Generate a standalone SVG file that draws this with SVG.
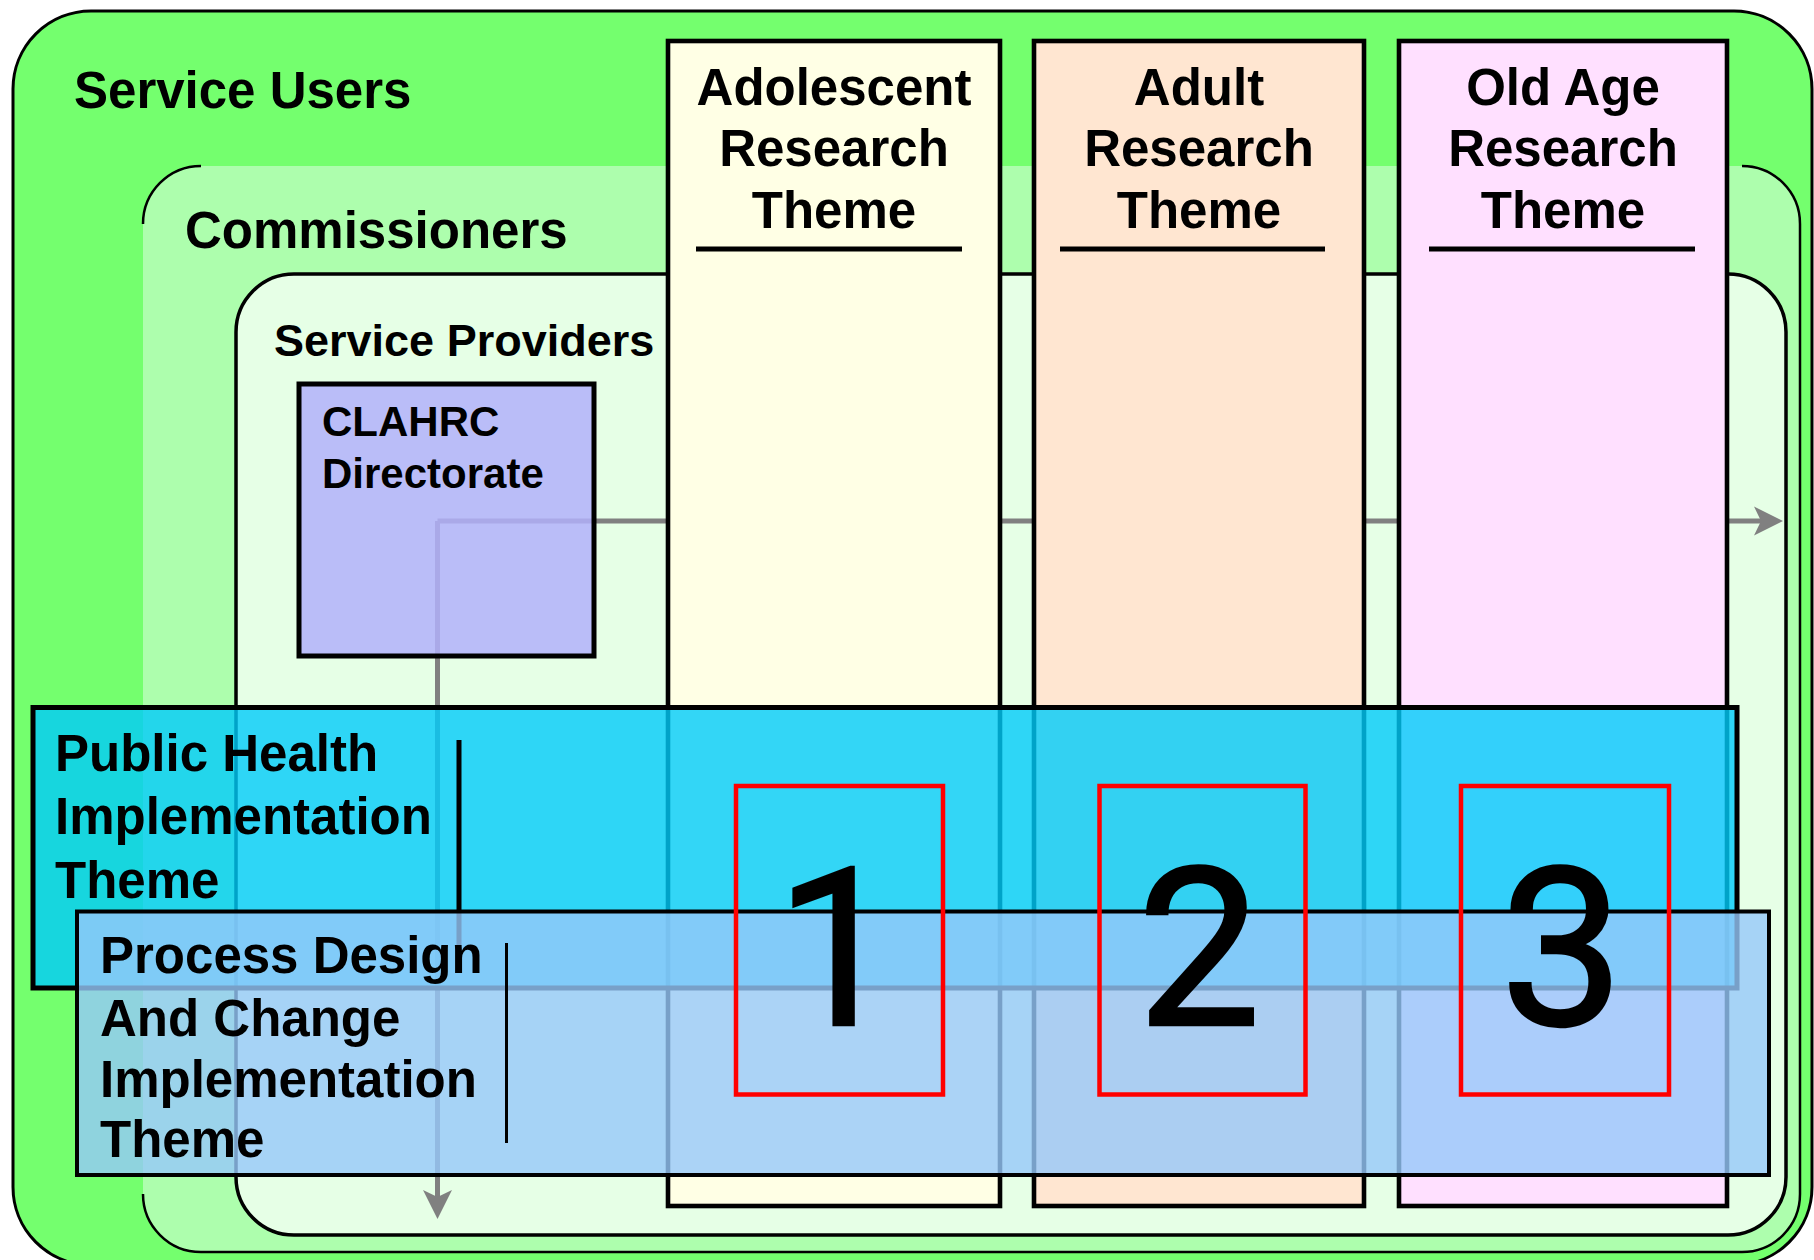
<svg xmlns="http://www.w3.org/2000/svg" width="1814" height="1260" viewBox="0 0 1814 1260">
<style>
.lbl{font-family:"Liberation Sans",Arial,sans-serif;font-weight:bold;font-size:51px;fill:#000}
.ctr{text-anchor:middle}
.col{stroke:#000;stroke-width:4.6}
.band{stroke:#000;stroke-width:5}
.bar{stroke:#000}
.red{fill:none;stroke:#f00;stroke-width:4.5}
.digit{font-family:Roboto,"Liberation Sans",Arial,sans-serif;font-size:220px;text-anchor:middle;fill:#000;stroke:#000;stroke-width:2.5}
.conn{fill:none;stroke:#808080;stroke-width:5}
.uline{stroke:#000;stroke-width:5}
</style>
<defs>
<marker id="ah" markerUnits="userSpaceOnUse" viewBox="-22 -15 31 30" markerWidth="31" markerHeight="30" refX="0" refY="0" orient="auto">
<path d="M8,0 L-21,-14.5 L-14,0 L-21,14.5 Z" fill="#808080"/>
</marker>
</defs>
<rect width="1814" height="1260" fill="#fff"/>

<g id="service-users">
<rect x="13" y="11" width="1799" height="1254" rx="78" ry="78" fill="#74FF6E" stroke="#000" stroke-width="3"/>
<text class="lbl" x="74" y="108">Service Users</text>
</g>

<g id="commissioners">
<rect x="143" y="166" width="1657" height="1086" rx="58" ry="58" fill="#ADFEAD"/>
<path d="M143,224 A58,58 0 0 1 201,166 M1742,166 A58,58 0 0 1 1800,224 V1194 A58,58 0 0 1 1742,1252 H201 A58,58 0 0 1 143,1194" fill="none" stroke="#000" stroke-width="2.5"/>
<text class="lbl" x="185" y="248">Commissioners</text>
</g>

<g id="service-providers">
<rect x="236" y="274" width="1550" height="961" rx="58" ry="58" fill="#E6FFE6" stroke="#000" stroke-width="3.5"/>
<text class="lbl" x="274" y="356" style="font-size:45px">Service Providers</text>
</g>

<g id="connectors">
<path class="conn" d="M437.5,521 H1775" marker-end="url(#ah)"/>
<path class="conn" d="M437.5,521 V1211" marker-end="url(#ah)"/>
</g>

<g id="clahrc-directorate">
<rect x="299" y="384" width="295" height="272" fill="#B2B0FB" fill-opacity="0.84" stroke="#000" stroke-width="5"/>
<text class="lbl" x="322" y="436" style="font-size:42px">CLAHRC</text>
<text class="lbl" x="322" y="488" style="font-size:42px">Directorate</text>
</g>

<g id="adolescent-theme">
<rect class="col" x="668" y="41" width="332" height="1165" fill="#FFFFE5"/>
<text class="lbl ctr" x="834" y="105">Adolescent</text>
<text class="lbl ctr" x="834" y="166">Research</text>
<text class="lbl ctr" x="834" y="228">Theme</text>
<line class="uline" x1="696" y1="249" x2="962" y2="249"/>
</g>

<g id="adult-theme">
<rect class="col" x="1034" y="41" width="330" height="1165" fill="#FFE6D1"/>
<text class="lbl ctr" x="1199" y="105">Adult</text>
<text class="lbl ctr" x="1199" y="166">Research</text>
<text class="lbl ctr" x="1199" y="228">Theme</text>
<line class="uline" x1="1060" y1="249" x2="1325" y2="249"/>
</g>

<g id="old-age-theme">
<rect class="col" x="1399" y="41" width="328" height="1165" fill="#FFE0FF"/>
<text class="lbl ctr" x="1563" y="105">Old Age</text>
<text class="lbl ctr" x="1563" y="166">Research</text>
<text class="lbl ctr" x="1563" y="228">Theme</text>
<line class="uline" x1="1429" y1="249" x2="1695" y2="249"/>
</g>

<g id="public-health-theme">
<rect class="band" x="33" y="707.5" width="1704" height="280.5" fill="rgb(0,204,250)" fill-opacity="0.8"/>
<text class="lbl" x="55" y="771">Public Health</text>
<text class="lbl" x="55" y="834">Implementation</text>
<text class="lbl" x="55" y="898">Theme</text>
<line class="bar" x1="459" y1="740" x2="459" y2="957" stroke-width="5"/>
</g>

<g id="process-design-theme">
<rect class="band" x="77" y="911.5" width="1692" height="263.5" fill="rgb(150,200,250)" fill-opacity="0.8" style="stroke-width:4"/>
<text class="lbl" x="100" y="973">Process Design</text>
<text class="lbl" x="100" y="1036">And Change</text>
<text class="lbl" x="100" y="1097">Implementation</text>
<text class="lbl" x="100" y="1157">Theme</text>
<line class="bar" x1="506.5" y1="943" x2="506.5" y2="1143" stroke-width="3"/>
</g>

<g id="cell-1">
<rect class="red" x="736" y="786" width="207" height="308.5"/>
<text class="digit" x="837" y="1025">1</text>
</g>
<g id="cell-2">
<rect class="red" x="1099.5" y="786" width="206" height="308.5"/>
<text class="digit" x="1199" y="1025">2</text>
</g>
<g id="cell-3">
<rect class="red" x="1461" y="786" width="208" height="308.5"/>
<text class="digit" x="1562" y="1025">3</text>
</g>
</svg>
